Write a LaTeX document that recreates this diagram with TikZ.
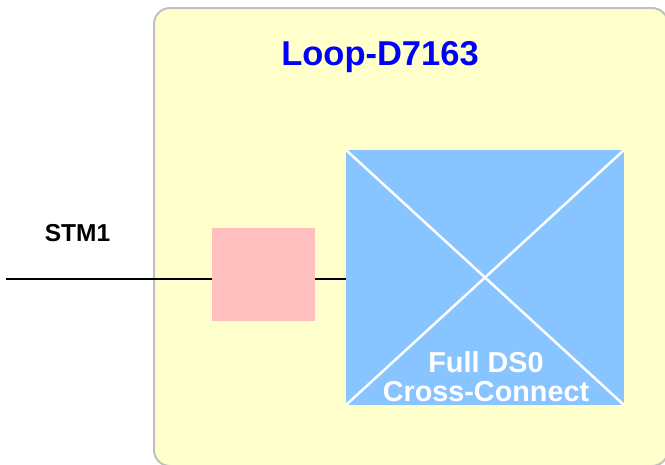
\documentclass[tikz,border=0pt]{standalone}
\usepackage{fontspec}
\setmainfont{Liberation Sans}
\definecolor{boxyellow}{HTML}{FFFFCC}
\definecolor{boxgray}{HTML}{C0C0C0}
\definecolor{xblue}{HTML}{88C4FF}
\definecolor{xpink}{HTML}{FFBFBF}
\definecolor{titleblue}{HTML}{0000FF}
\tikzset{
  outerbox/.style={draw=boxgray, line width=2pt, fill=boxyellow, rounded corners=16pt},
  pinkbox/.style={fill=xpink, draw=none, inner sep=0pt, minimum width=103pt, minimum height=93pt},
  bluebox/.style={fill=xblue, draw=none, inner sep=0pt, minimum width=278pt, minimum height=255pt},
  crossline/.style={draw=white, line width=2.5pt},
  wire/.style={draw=black, line width=1.8pt},
  lbl/.style={font=\bfseries\fontsize{24.5}{26}\selectfont, inner sep=0pt, anchor=base},
  xlbl/.style={font=\bfseries\fontsize{28.8}{30}\selectfont, text=white, inner sep=0pt, anchor=base},
}
\begin{document}
\begin{tikzpicture}[x=1pt,y=-1pt]
\useasboundingbox (0,0) rectangle (665,464);
\begin{scope}
\clip (0,0) rectangle (665,464);
\draw[outerbox] (154,8) rectangle (668,466);
\end{scope}
\node[font=\bfseries\fontsize{34.5}{36}\selectfont, text=titleblue, inner sep=0pt, anchor=base] (title) at (380,65) {Loop-D7163};
\node[bluebox] (blue) at (485,277.5) {};
\draw[crossline] (blue.north west) -- (blue.south east);
\draw[crossline] (blue.north east) -- (blue.south west);
\node[xlbl] (ds0a) at (486,372.5) {Full DS0};
\node[xlbl] (ds0b) at (486,401) {Cross-Connect};
\coordinate (start) at (6,279);
\draw[wire] (start) -- (start -| blue.west);
\node[pinkbox] (pink) at (263.5,274.5) {};
\node[lbl] (stm) at (77.5,241.7) {STM1};
\end{tikzpicture}
\end{document}
